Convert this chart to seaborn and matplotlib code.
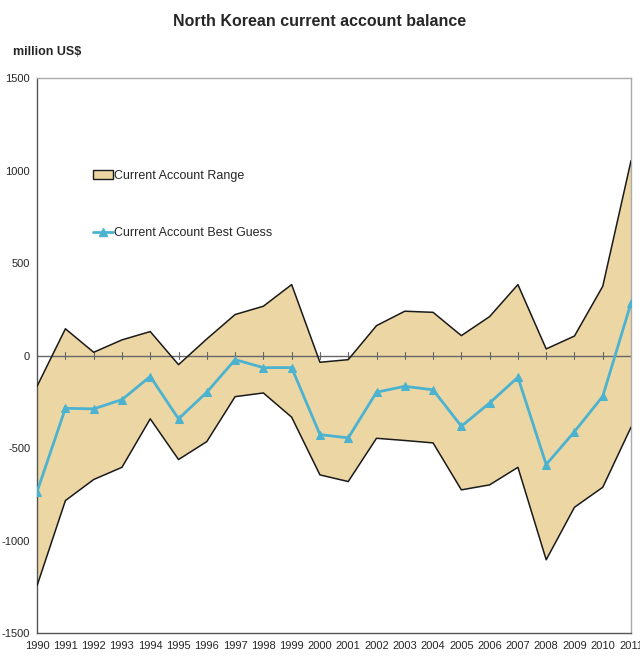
import matplotlib
matplotlib.use("Agg")
import matplotlib.pyplot as plt
import seaborn as sns
import pandas as pd
import numpy as np

years = list(range(1990, 2012))
range_upper = [-165, 145, 18, 85, 130, -49, 90, 222, 267, 384, -36, -22,
               162, 240, 234, 108, 211, 384, 36, 106, 375, 1054]
range_lower = [-1243, -784, -670, -604, -342, -562, -465, -222, -202, -333, -645, -681,
               -447, -459, -472, -726, -699, -604, -1104, -820, -712, -387]
best_guess = [-735, -285, -288, -238, -113, -342, -198, -22, -65, -65, -427, -445,
              -198, -166, -185, -382, -256, -117, -589, -411, -220, 285]

df = pd.DataFrame({"year": years, "upper": range_upper, "lower": range_lower,
                   "best": best_guess})

sns.set_theme(style="white")
plt.rcParams["font.family"] = ["Liberation Sans", "DejaVu Sans"]

fig = plt.figure(figsize=(6.4, 6.57), dpi=100)
ax = fig.add_axes([0.058, 0.0365, 0.928, 0.8445])

fill_color = "#ecd6a4"
ax.fill_between(df["year"], df["lower"], df["upper"], facecolor=fill_color,
                edgecolor="none", zorder=1, label="Current Account Range")
ax.plot(df["year"], df["upper"], color="#1a1a1a", lw=1.1, zorder=3)
ax.plot(df["year"], df["lower"], color="#1a1a1a", lw=1.1, zorder=3)

# zero line with tick marks
ax.axhline(0, color="#666666", lw=1.0, zorder=2)
for yr in years[1:-1]:
    ax.plot([yr, yr], [-18, 18], color="#666666", lw=0.8, zorder=2)

sns.lineplot(data=df, x="year", y="best", ax=ax, color="#4bb3cf", lw=2.0,
             marker="^", markersize=6, markeredgecolor="#4bb3cf",
             label="Current Account Best Guess", zorder=4)

ax.set_xlim(1990, 2011)
ax.set_ylim(-1500, 1500)
ax.set_xticks(years)
ax.set_xticklabels([str(y) for y in years], fontsize=8)
ax.set_yticks([-1500, -1000, -500, 0, 500, 1000, 1500])
ax.set_yticklabels(["-1500", "-1000", "-500", "0", "500", "1000", "1500"], fontsize=8)
ax.tick_params(axis="x", length=0, pad=6)
ax.tick_params(axis="y", length=3, width=0.8, color="#555555", direction="out", pad=2)
ax.set_xlabel("")
ax.set_ylabel("")

for s in ["top", "right"]:
    ax.spines[s].set_color("#aaaaaa")
    ax.spines[s].set_linewidth(1.0)
for s in ["left", "bottom"]:
    ax.spines[s].set_color("#555555")
    ax.spines[s].set_linewidth(1.0)

from matplotlib.patches import Patch
from matplotlib.lines import Line2D
handles = [Patch(facecolor=fill_color, edgecolor="#1a1a1a", lw=1.0),
           Line2D([0], [0], color="#4bb3cf", lw=2.0, marker="^", markersize=6)]
ax.legend(handles, ["Current Account Range", "Current Account Best Guess"],
          loc="upper left", bbox_to_anchor=(0.075, 0.855), frameon=False,
          fontsize=9, handlelength=1.6, handletextpad=0.1, labelspacing=3.6)

fig.text(0.5, 0.968, "North Korean current account balance", ha="center",
         va="center", fontsize=11.5, fontweight="bold")
fig.text(0.02, 0.921, "million US$", ha="left", va="center", fontsize=9,
         fontweight="bold")

fig.savefig("out.png", dpi=100)
